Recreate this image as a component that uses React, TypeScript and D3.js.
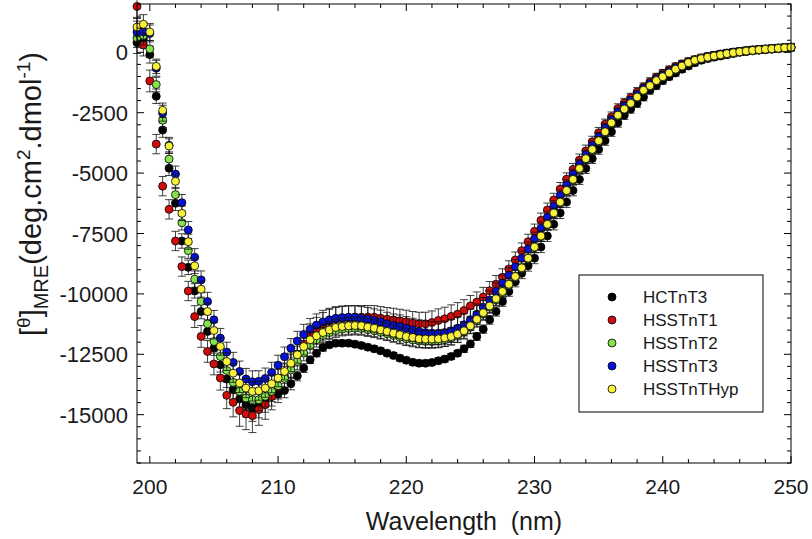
import React from "react";
import * as d3 from "d3";

// Wavelength grid (nm)
const wavelengths = [
  199, 199.5, 200, 200.5, 201, 201.5, 202, 202.5, 203, 203.5, 204, 204.5, 205, 205.5, 206, 206.5, 207, 207.5, 208, 208.5,
  209, 209.5, 210, 210.5, 211, 211.5, 212, 212.5, 213, 213.5, 214, 214.5, 215, 215.5, 216, 216.5, 217, 217.5, 218, 218.5,
  219, 219.5, 220, 220.5, 221, 221.5, 222, 222.5, 223, 223.5, 224, 224.5, 225, 225.5, 226, 226.5, 227, 227.5, 228, 228.5,
  229, 229.5, 230, 230.5, 231, 231.5, 232, 232.5, 233, 233.5, 234, 234.5, 235, 235.5, 236, 236.5, 237, 237.5, 238, 238.5,
  239, 239.5, 240, 240.5, 241, 241.5, 242, 242.5, 243, 243.5, 244, 244.5, 245, 245.5, 246, 246.5, 247, 247.5, 248, 248.5,
  249, 249.5, 250,
];

const hctnt3 = [
  400, 580, -95, -1820, -3220, -4800, -6250, -7810, -8900, -9875, -10730, -11555, -12245, -12935, -13525, -13965, -14350, -14590, -14725, -14630,
  -14450, -14240, -14150, -14000, -13720, -13400, -13070, -12730, -12455, -12220, -12110, -12040, -12040, -12040, -12080, -12135, -12205, -12275, -12355, -12455,
  -12550, -12660, -12745, -12830, -12870, -12870, -12840, -12770, -12700, -12590, -12455, -12275, -12070, -11765, -11460, -11075, -10730, -10315, -9900, -9500,
  -9150, -8840, -8520, -8060, -7600, -7120, -6650, -6200, -5720, -5260, -4805, -4400, -4020, -3660, -3290, -2920, -2600, -2350, -2110, -1850,
  -1570, -1380, -1170, -1010, -855, -700, -565, -430, -330, -260, -200, -150, -100, -50, 0, 30, 60, 90, 110, 130,
  150, 170, 190,
];
const hctnt3Err = [
  450, 400, 350, 300, 300, 300, 300, 300, 300, 300, 300, 300, 300, 300, 350, 400, 450, 500, 550, 500,
  450, 400, 350, 300, 250, 200, 180, 150, 150, 150, 120, 120, 120, 120, 120, 120, 120, 120, 120, 120,
  120, 120, 120, 120, 120, 120, 120, 120, 120, 120, 120, 150, 150, 160, 170, 180, 190, 200, 200, 210,
  220, 220, 230, 230, 230, 230, 230, 220, 220, 210, 210, 200, 200, 190, 190, 180, 180, 170, 170, 160,
  160, 150, 150, 130, 130, 130, 130, 130, 130, 130, 130, 130, 130, 130, 130, 130, 130, 130, 130, 130,
  130, 130, 130,
];

const hsstnt1 = [
  1900, 300, -1185, -3800, -5540, -6500, -7810, -8870, -9880, -10940, -11760, -12380, -12900, -13480, -14200, -14490, -14830, -14970, -15040, -14790,
  -14590, -14250, -13850, -13400, -12950, -12500, -12080, -11720, -11450, -11250, -11120, -11040, -11000, -10980, -10970, -10965, -10960, -10965, -11005, -11045,
  -11075, -11115, -11155, -11210, -11240, -11240, -11185, -11100, -11030, -10935, -10840, -10690, -10495, -10340, -10130, -9870, -9600, -9310, -8970, -8595,
  -8210, -7840, -7410, -6955, -6530, -6115, -5660, -5250, -4850, -4460, -4080, -3705, -3330, -2975, -2670, -2330, -2095, -1875, -1640, -1435,
  -1225, -1030, -870, -720, -590, -480, -380, -300, -230, -170, -120, -70, -30, 10, 40, 70, 100, 120, 140, 160,
  180, 200, 220,
];
const hsstnt1Err = [
  500, 450, 450, 400, 400, 400, 400, 400, 400, 450, 450, 450, 450, 500, 550, 600, 650, 650, 700, 650,
  600, 550, 500, 500, 500, 480, 480, 480, 480, 480, 480, 480, 480, 480, 480, 480, 480, 480, 480, 480,
  480, 480, 480, 480, 480, 480, 480, 480, 480, 480, 480, 450, 430, 420, 400, 380, 360, 350, 340, 330,
  320, 310, 300, 300, 290, 280, 270, 260, 250, 250, 240, 230, 220, 210, 200, 200, 190, 180, 180, 170,
  170, 160, 160, 150, 150, 150, 150, 150, 150, 150, 150, 150, 150, 150, 150, 150, 150, 150, 150, 150,
  150, 150, 150,
];

const hsstnt2 = [
  600, 700, 140, -1335, -2810, -4420, -5890, -7055, -8210, -9390, -10315, -11240, -11970, -12590, -13170, -13665, -14035, -14310, -14380, -14380,
  -14240, -14035, -13800, -13500, -13150, -12800, -12450, -12150, -11900, -11720, -11600, -11520, -11460, -11430, -11420, -11430, -11480, -11530, -11590, -11650,
  -11720, -11790, -11860, -11910, -11950, -11970, -11970, -11950, -11900, -11830, -11720, -11580, -11380, -11120, -10840, -10550, -10250, -9950, -9640, -9310,
  -8950, -8550, -8090, -7630, -7150, -6680, -6230, -5750, -5290, -4840, -4430, -4050, -3690, -3320, -2950, -2630, -2370, -2130, -1870, -1590,
  -1400, -1190, -1030, -870, -715, -580, -445, -345, -270, -210, -160, -110, -65, -25, 10, 40, 70, 95, 115, 135,
  155, 175, 195,
];
const hsstnt2Err = [
  400, 400, 350, 300, 300, 300, 300, 300, 320, 340, 360, 380, 400, 400, 420, 440, 460, 480, 480, 460,
  440, 420, 400, 380, 360, 340, 320, 300, 300, 300, 280, 280, 280, 280, 280, 280, 280, 280, 280, 280,
  280, 280, 280, 280, 280, 280, 280, 280, 280, 280, 280, 260, 250, 240, 230, 220, 220, 210, 210, 200,
  200, 200, 200, 200, 200, 200, 200, 190, 190, 180, 180, 170, 170, 160, 160, 150, 150, 150, 150, 140,
  140, 140, 140, 130, 130, 130, 130, 130, 130, 130, 130, 130, 130, 130, 130, 130, 130, 130, 130, 130,
  130, 130, 130,
];

const hsstnt3 = [
  840, 840, 780, -660, -2520, -3850, -5040, -6225, -7355, -8485, -9420, -10315, -11075, -11830, -12410, -12840, -13210, -13525, -13635, -13620,
  -13500, -13250, -12950, -12600, -12250, -11950, -11680, -11460, -11290, -11160, -11075, -11010, -10980, -10965, -10965, -11005, -11045, -11100, -11155, -11240,
  -11310, -11350, -11420, -11490, -11555, -11600, -11625, -11625, -11600, -11530, -11420, -11280, -11075, -10840, -10550, -10250, -9900, -9560, -9230, -8880,
  -8520, -8140, -7720, -7280, -6830, -6380, -5930, -5490, -5050, -4630, -4240, -3860, -3500, -3130, -2800, -2470, -2220, -1990, -1750, -1500,
  -1300, -1100, -940, -790, -640, -520, -410, -320, -250, -185, -135, -85, -40, 0, 35, 65, 95, 115, 135, 155,
  175, 195, 215,
];
const hsstnt3Err = [
  450, 400, 350, 330, 330, 330, 330, 340, 350, 360, 370, 380, 390, 400, 410, 420, 430, 440, 450, 440,
  430, 420, 410, 400, 400, 400, 420, 440, 460, 480, 480, 480, 480, 480, 480, 480, 480, 480, 480, 480,
  480, 480, 480, 480, 480, 480, 480, 480, 480, 480, 480, 460, 440, 420, 400, 380, 360, 340, 320, 300,
  290, 280, 270, 260, 250, 240, 230, 220, 210, 200, 200, 190, 190, 180, 180, 170, 170, 160, 160, 150,
  150, 150, 150, 140, 140, 140, 140, 140, 140, 140, 140, 140, 140, 140, 140, 140, 140, 140, 140, 140,
  140, 140, 140,
];

const hsstnthyp = [
  1045, 1160, 840, -580, -2400, -3880, -5340, -6665, -7840, -8840, -9805, -10730, -11515, -12175, -12800, -13280, -13690, -13900, -14035, -14010,
  -13900, -13720, -13480, -13210, -12870, -12520, -12180, -11900, -11735, -11600, -11490, -11390, -11350, -11320, -11310, -11320, -11375, -11420, -11490, -11555,
  -11625, -11695, -11765, -11805, -11860, -11870, -11870, -11860, -11820, -11765, -11665, -11530, -11320, -11050, -10780, -10500, -10200, -9900, -9600, -9280,
  -8920, -8520, -8060, -7600, -7120, -6650, -6200, -5720, -5260, -4805, -4400, -4020, -3660, -3290, -2920, -2600, -2350, -2110, -1850, -1570,
  -1380, -1170, -1010, -855, -700, -565, -430, -330, -260, -200, -150, -100, -55, -15, 20, 50, 80, 105, 125, 145,
  165, 185, 205,
];
const hsstnthypErr = [
  400, 400, 350, 300, 300, 300, 300, 300, 310, 320, 330, 340, 350, 360, 370, 380, 390, 400, 400, 390,
  380, 370, 360, 350, 350, 350, 350, 350, 350, 350, 350, 350, 350, 350, 350, 350, 350, 350, 350, 350,
  350, 350, 350, 350, 350, 350, 350, 350, 350, 350, 350, 340, 330, 320, 310, 300, 290, 280, 270, 260,
  250, 240, 230, 220, 210, 200, 200, 190, 190, 180, 180, 170, 170, 160, 160, 150, 150, 150, 150, 140,
  140, 140, 140, 130, 130, 130, 130, 130, 130, 130, 130, 130, 130, 130, 130, 130, 130, 130, 130, 130,
  130, 130, 130,
];

const seriesNames = ["HCTnT3", "HSSTnT1", "HSSTnT2", "HSSTnT3", "HSSTnTHyp"];
const seriesColors = ["#000000", "#d00c0c", "#86e34c", "#0612d6", "#f8f23c"];
const seriesValues = [hctnt3, hsstnt1, hsstnt2, hsstnt3, hsstnthyp];
const seriesErrors = [hctnt3Err, hsstnt1Err, hsstnt2Err, hsstnt3Err, hsstnthypErr];

const xMajorTicks = [200, 210, 220, 230, 240, 250];
const yMajorTicks = [0, -2500, -5000, -7500, -10000, -12500, -15000];

const FONT = "'Liberation Sans', Arial, Helvetica, sans-serif";

export default function App() {
  const L = 137, R = 791, T = 4, B = 463;
  const x = d3.scaleLinear().domain([199, 250]).range([L, R]);
  const y = d3.scaleLinear().domain([-17000, 2000]).range([B, T]);

  const xMinor = d3.range(200, 250.01, 2).filter((v) => !xMajorTicks.includes(v));
  const yMinor = d3.range(-17000, 2000.01, 500).filter((v) => !yMajorTicks.includes(v));

  const majLen = 7, minLen = 4;
  const cap = 4;
  const r = 4;

  return (
    <svg width={812} height={539} style={{ position: "absolute", left: 0, top: 0, background: "#fff" }}>
      <rect x={0} y={0} width={812} height={539} fill="#fff" />
      {/* data */}
      {seriesValues.map((vals, si) => (
        <g key={seriesNames[si]}>
          <g stroke="#111" strokeWidth={0.8}>
            {vals.map((v, i) => {
              const e = seriesErrors[si][i];
              const cx = x(wavelengths[i]);
              const y1 = y(v + e), y2 = y(v - e);
              return (
                <g key={i}>
                  <line x1={cx} x2={cx} y1={y1} y2={y2} />
                  <line x1={cx - cap} x2={cx + cap} y1={y1} y2={y1} />
                  <line x1={cx - cap} x2={cx + cap} y1={y2} y2={y2} />
                </g>
              );
            })}
          </g>
          <g fill={seriesColors[si]} stroke="#000" strokeWidth={0.8}>
            {vals.map((v, i) => (
              <circle key={i} cx={x(wavelengths[i])} cy={y(v)} r={r} />
            ))}
          </g>
        </g>
      ))}

      {/* frame */}
      <rect x={L} y={T} width={R - L} height={B - T} fill="none" stroke="#000" strokeWidth={1} />
      {/* ticks */}
      <g stroke="#000" strokeWidth={1}>
        {xMajorTicks.map((v) => (
          <g key={"xM" + v}>
            <line x1={x(v)} x2={x(v)} y1={B} y2={B - majLen} />
            <line x1={x(v)} x2={x(v)} y1={T} y2={T + majLen} />
          </g>
        ))}
        {xMinor.map((v) => (
          <g key={"xm" + v}>
            <line x1={x(v)} x2={x(v)} y1={B} y2={B - minLen} />
            <line x1={x(v)} x2={x(v)} y1={T} y2={T + minLen} />
          </g>
        ))}
        {yMajorTicks.map((v) => (
          <g key={"yM" + v}>
            <line x1={L} x2={L + majLen} y1={y(v)} y2={y(v)} />
            <line x1={R} x2={R - majLen} y1={y(v)} y2={y(v)} />
          </g>
        ))}
        {yMinor.map((v) => (
          <g key={"ym" + v}>
            <line x1={L} x2={L + minLen} y1={y(v)} y2={y(v)} />
            <line x1={R} x2={R - minLen} y1={y(v)} y2={y(v)} />
          </g>
        ))}
      </g>

      {/* tick labels */}
      <g fontFamily={FONT} fill="#1a1a1a">
        {xMajorTicks.map((v) => (
          <text key={"xl" + v} x={x(v)} y={494} textAnchor="middle" fontSize={21}>{v}</text>
        ))}
        {yMajorTicks.map((v) => (
          <text key={"yl" + v} x={128} y={y(v) + 8} textAnchor="end" fontSize={22}>{v}</text>
        ))}
      </g>

      {/* axis titles */}
      <text x={(L + R) / 2} y={530} textAnchor="middle" fontFamily={FONT} fontSize={25} fill="#1a1a1a">
        {"Wavelength\u00A0\u00A0(nm)"}
      </text>
      <text transform="translate(41,194) rotate(-90)" textAnchor="middle" fontFamily={FONT} fontSize={29} fill="#1a1a1a">
        <tspan>[</tspan>
        <tspan fontSize={19} dy={-11}>θ</tspan>
        <tspan dy={11}>]</tspan>
        <tspan fontSize={20} dy={7}>MRE</tspan>
        <tspan dy={-7}>(deg.cm</tspan>
        <tspan fontSize={19} dy={-11}>2</tspan>
        <tspan dy={11}>.dmol</tspan>
        <tspan fontSize={19} dy={-11}>-1</tspan>
        <tspan dy={11}>)</tspan>
      </text>

      {/* legend */}
      <rect x={579} y={275} width={184} height={137} fill="#fff" stroke="#000" strokeWidth={1} />
      {seriesNames.map((n, i) => {
        const ly = 297 + i * 23;
        return (
          <g key={"lg" + n}>
            <circle cx={612} cy={ly} r={r} fill={seriesColors[i]} stroke="#000" strokeWidth={0.8} />
            <text x={643} y={ly + 6} fontFamily={FONT} fontSize={17} fill="#1a1a1a">{n}</text>
          </g>
        );
      })}
    </svg>
  );
}
